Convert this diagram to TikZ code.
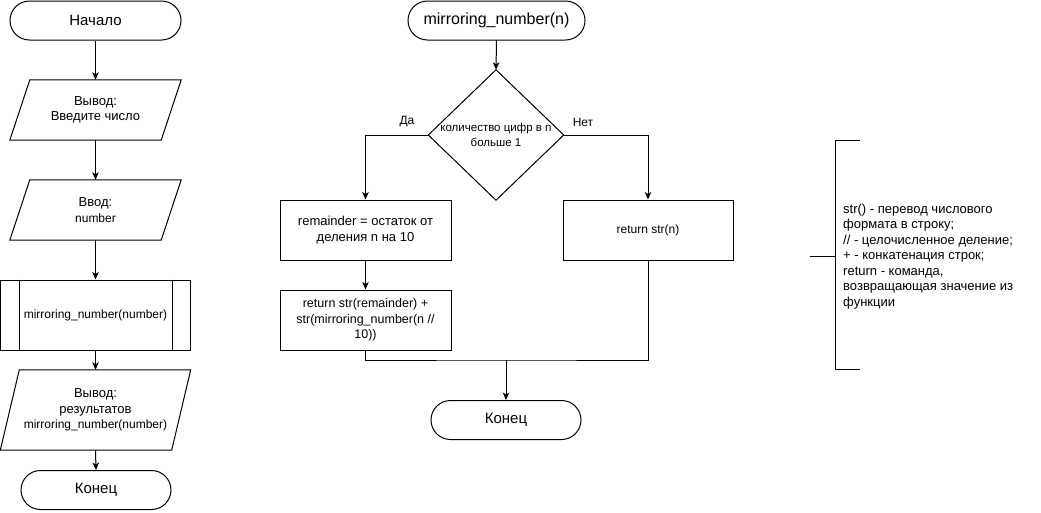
\documentclass[tikz,border=0pt]{standalone}
\usepackage{fontspec}
\setmainfont{Liberation Sans}
\usetikzlibrary{arrows.meta,calc}
\tikzset{
  line/.style={draw=black,line width=1pt},
  arr/.style={line,-{Stealth[length=7.5pt,width=6.5pt,inset=2pt]}},
  term/.style={draw,line width=1pt,rounded corners=19.5pt,minimum height=39pt,inner sep=0pt,font=\fontsize{15}{18}\selectfont},
  box/.style={draw,line width=1pt,inner sep=0pt,align=center,font=\fontsize{13}{15.5}\selectfont},
  frame/.style={inner sep=0pt,align=center,font=\fontsize{13}{15.5}\selectfont},
  lbl/.style={inner sep=0pt,font=\fontsize{12}{14}\selectfont},
}
\begin{document}
\begin{tikzpicture}[x=1pt,y=-1pt]
\useasboundingbox (0,0) rectangle (1041,512);
\fill[white] (0,0) rectangle (1041,512);

% ---------- left column ----------
\node[term,minimum width=171pt] (start) at (95.5,20.5) {Начало};
\node[frame,minimum width=171pt,minimum height=60pt] (out1) at (95.5,110) {Вывод:\\Введите число};
\draw[line] ($(out1.north west)+(20,0)$) -- (out1.north east) -- ($(out1.south east)-(20,0)$) -- (out1.south west) -- cycle;
\node[frame,minimum width=171pt,minimum height=60pt] (in1) at (95.5,210) {Ввод:\\{\fontsize{12}{15.5}\selectfont number}};
\draw[line] ($(in1.north west)+(20,0)$) -- (in1.north east) -- ($(in1.south east)-(20,0)$) -- (in1.south west) -- cycle;
\node[box,minimum width=190pt,minimum height=70pt,font=\fontsize{12}{14}\selectfont] (proc) at (95.5,315) {mirroring\_number(number)};
\draw[line] ($(proc.north west)+(19,0)$) -- ($(proc.south west)+(19,0)$);
\draw[line] ($(proc.north east)-(19,0)$) -- ($(proc.south east)-(19,0)$);
\node[frame,minimum width=190pt,minimum height=80pt] (out2) at (95.5,410) {Вывод:\\результатов\\{\fontsize{12}{15.5}\selectfont mirroring\_number(number)}};
\draw[line] ($(out2.north west)+(19,0)$) -- (out2.north east) -- ($(out2.south east)-(19,0)$) -- (out2.south west) -- cycle;
\node[term,minimum width=150pt] (end1) at (96,490) {Конец};

\draw[arr] (start.south) -- (out1.north);
\draw[arr] (out1.south) -- (in1.north);
\draw[arr] (in1.south) -- (proc.north);
\draw[arr] (proc.south) -- (out2.north);
\draw[arr] (out2.south) -- (end1.north);

% ---------- function ----------
\node[term,minimum width=177pt,font=\fontsize{16}{19}\selectfont] (fstart) at (496.5,20.5) {mirroring\_number(n)};
\node[inner sep=0pt,minimum width=135pt,minimum height=130pt,align=center,font=\fontsize{11.5}{15}\selectfont] (dec) at (496,135) {количество цифр в n\\больше 1};
\draw[line] (dec.north) -- (dec.east) -- (dec.south) -- (dec.west) -- cycle;
\node[box,minimum width=171pt,minimum height=60pt] (rem) at (365.5,230) {remainder = остаток от\\деления n на 10};
\node[box,minimum width=170pt,minimum height=60pt,font=\fontsize{12}{14}\selectfont] (retn) at (648,230) {return str(n)};
\node[box,minimum width=171pt,minimum height=60pt,font=\fontsize{12.5}{15.5}\selectfont] (ret2) at (365.5,320) {return str(remainder) +\\str(mirroring\_number(n //\\10))};
\node[term,minimum width=150pt] (end2) at (506,420) {Конец};
\coordinate (mrg) at (506,360);

\draw[arr] (fstart.south) -- (dec.north);
\draw[arr] (dec.west) -| (rem.north);
\draw[arr] (dec.east) -| (retn.north);
\draw[arr] (rem.south) -- (ret2.north);
\draw[line] (ret2.south) |- (mrg) -| (retn.south);
\draw[arr] (mrg) -- (end2.north);
\node[lbl] (yes) at (407,122) {Да};
\node[lbl] (no) at (583,122) {Нет};

% ---------- annotation ----------
\node[anchor=west,inner sep=0pt,align=left,font=\fontsize{13}{15.5}\selectfont] (note) at (843,256.5)
{str() - перевод числового\\формата в строку;\\// - целочисленное деление;\\+ - конкатенация строк;\\return - команда,\\возвращающая значение из\\функции};
\draw[line] (860,140) -- (835,140) -- (835,369) -- (860,369);
\draw[line] (810,256) -- (835,256);
\end{tikzpicture}
\end{document}
